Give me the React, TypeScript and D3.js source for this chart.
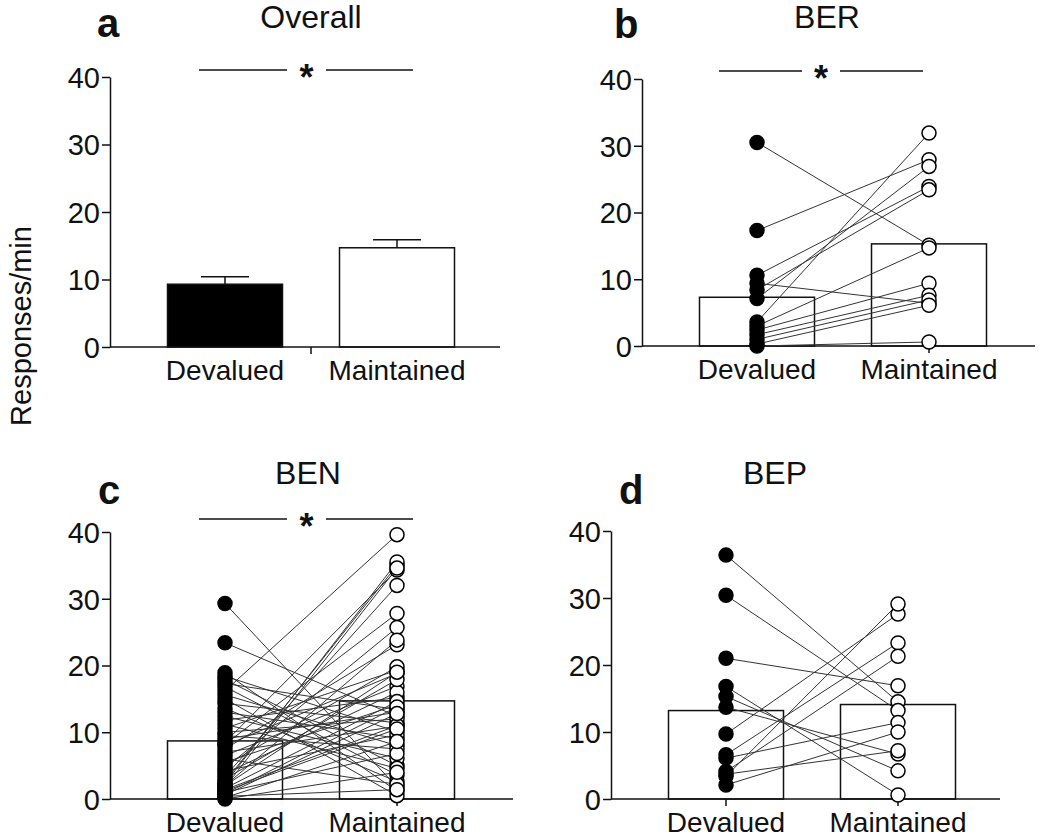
import React, { useEffect, useRef } from 'react';
import * as d3 from 'd3';

const categories = ['Devalued', 'Maintained'];
const yTicks = [0, 10, 20, 30, 40];

// a - Overall (mean + SEM)
const overallMeans = [9.3, 14.7];
const overallSem = [1.1, 1.2];

// b - BER, paired subjects
const berDevalued = [30.5, 17.3, 10.6, 9.4, 8.4, 7.1, 3.6, 3.0, 2.4, 1.7, 1.0, 0.3, 0.0];
const berMaintained = [15.1, 27.9, 23.9, 6.4, 23.4, 26.9, 31.9, 14.7, 9.4, 7.6, 6.9, 6.1, 0.6];
const berMeans = [7.3, 15.3];

// c - BEN, paired subjects
const benDevalued = [
  29.3, 23.4, 18.9, 18.4, 17.9, 17.3, 16.8, 16.2, 15.6, 15.0, 14.3, 13.6, 13.0, 12.4, 11.8, 11.2,
  10.6, 10.0, 9.5, 9.0, 8.5, 8.2, 8.0, 7.5, 7.0, 6.5, 6.0, 5.5, 5.0, 4.6, 4.2, 3.8,
  3.4, 3.0, 2.6, 2.3, 2.0, 2.0, 1.8, 1.6, 1.4, 1.2, 1.0, 0.8, 0.6, 0.4, 0.2, 0.0,
];
const benMaintained = [
  1.8, 12.4, 1.2, 10.1, 5.0, 13.4, 3.6, 39.6, 8.0, 0.5, 11.4, 2.6, 9.1, 6.1, 15.2, 4.6,
  19.3, 12.0, 7.5, 13.0, 34.3, 27.8, 18.8, 23.1, 10.9, 16.9, 2.2, 14.1, 19.8, 25.7, 9.6, 16.0,
  32.0, 17.9, 35.0, 35.5, 23.8, 19.0, 34.6, 14.6, 11.0, 10.5, 6.8, 13.8, 12.8, 1.4, 8.6, 4.0,
];
const benMeans = [8.7, 14.7];

// d - BEP, paired subjects
const bepDevalued = [36.4, 30.4, 21.0, 16.8, 15.3, 13.7, 9.7, 6.6, 6.1, 4.1, 3.7, 3.4, 2.1];
const bepMaintained = [14.5, 13.2, 16.9, 0.6, 4.2, 6.7, 27.6, 23.3, 11.4, 21.3, 7.2, 29.1, 10.0];
const bepMeans = [13.2, 14.1];

const panels = [
  {
    letter: 'a', title: 'Overall', axisX: 110, axisRight: 500, y0: 347, y40: 77,
    titleX: 311, titleY: 28, letterX: 97, letterY: 37,
    sig: { x1: 199, x2: 413, g1: 287, g2: 326, y: 70 },
    means: overallMeans, sem: overallSem, dev: null, mai: null, centerTick: true,
  },
  {
    letter: 'b', title: 'BER', axisX: 642, axisRight: 1035, y0: 346, y40: 79,
    titleX: 827, titleY: 28, letterX: 614, letterY: 38,
    sig: { x1: 719, x2: 923, g1: 802, g2: 840, y: 71 },
    means: berMeans, sem: null, dev: berDevalued, mai: berMaintained, centerTick: false,
  },
  {
    letter: 'c', title: 'BEN', axisX: 110, axisRight: 513, y0: 799, y40: 532,
    titleX: 308, titleY: 484, letterX: 98, letterY: 504,
    sig: { x1: 199, x2: 413, g1: 287, g2: 326, y: 519 },
    means: benMeans, sem: null, dev: benDevalued, mai: benMaintained, centerTick: false,
  },
  {
    letter: 'd', title: 'BEP', axisX: 611, axisRight: 1000, y0: 799, y40: 531,
    titleX: 775, titleY: 484, letterX: 619, letterY: 504,
    sig: null,
    means: bepMeans, sem: null, dev: bepDevalued, mai: bepMaintained, centerTick: false,
  },
];

const FONT = 'Liberation Sans, Arial, Helvetica, sans-serif';

const App = () => {
  const ref = useRef<SVGSVGElement>(null);

  useEffect(() => {
    if (!ref.current) return;
    const svg = d3.select(ref.current);
    svg.selectAll('*').remove();

    svg.append('text')
      .attr('transform', 'translate(31,326) rotate(-90)')
      .attr('text-anchor', 'middle')
      .attr('font-family', FONT)
      .attr('font-size', 29)
      .attr('fill', '#111')
      .text('Responses/min');

    panels.forEach(p => {
      const g = svg.append('g');
      const y = d3.scaleLinear().domain([0, 40]).range([p.y0, p.y40]);
      const x = d3.scalePoint<string>().domain(categories).range([p.axisX + 115, p.axisX + 287]);
      const barW = 115;

      // bars
      g.selectAll('rect.bar')
        .data(p.means)
        .join('rect')
        .attr('x', (_, i) => (x(categories[i]) as number) - barW / 2)
        .attr('y', d => y(d))
        .attr('width', barW)
        .attr('height', d => p.y0 - y(d))
        .attr('fill', (_, i) => (p.letter === 'a' && i === 0 ? '#000' : '#fff'))
        .attr('stroke', '#111')
        .attr('stroke-width', 1.5);

      // error bars (upward only)
      if (p.sem) {
        p.means.forEach((m, i) => {
          const cx = x(categories[i]) as number;
          const top = y(m + p.sem[i]);
          g.append('line').attr('x1', cx).attr('x2', cx).attr('y1', y(m)).attr('y2', top)
            .attr('stroke', '#111').attr('stroke-width', 1.5);
          g.append('line').attr('x1', cx - 24).attr('x2', cx + 24).attr('y1', top).attr('y2', top)
            .attr('stroke', '#111').attr('stroke-width', 1.5);
        });
      }

      // y axis
      const yAxis = d3.axisLeft(y).tickValues(yTicks).tickSize(8).tickSizeOuter(0).tickPadding(2)
        .tickFormat(d3.format('d'));
      const ga = g.append('g').attr('transform', `translate(${p.axisX},0)`).call(yAxis);
      ga.select('.domain').attr('stroke', '#111').attr('stroke-width', 1.5);
      ga.selectAll('.tick line').attr('stroke', '#111').attr('stroke-width', 1.5);
      ga.selectAll('.tick text')
        .attr('font-family', FONT).attr('font-size', 29).attr('fill', '#111')
        .attr('dy', '0.36em');

      // x axis
      g.append('line')
        .attr('x1', p.axisX).attr('x2', p.axisRight)
        .attr('y1', p.y0).attr('y2', p.y0)
        .attr('stroke', '#111').attr('stroke-width', 1.5);
      const tickXs = p.centerTick
        ? [((x(categories[0]) as number) + (x(categories[1]) as number)) / 2]
        : categories.map(c => x(c) as number);
      tickXs.forEach(tx => {
        g.append('line').attr('x1', tx).attr('x2', tx).attr('y1', p.y0).attr('y2', p.y0 + 7)
          .attr('stroke', '#111').attr('stroke-width', 1.5);
      });
      g.selectAll('text.cat')
        .data(categories)
        .join('text')
        .attr('x', d => x(d) as number)
        .attr('y', p.y0 + 33)
        .attr('text-anchor', 'middle')
        .attr('font-family', FONT)
        .attr('font-size', 28)
        .attr('fill', '#111')
        .text(d => d);

      // paired lines and points
      if (p.dev && p.mai) {
        const pairs = p.dev.map((d, i) => [d, p.mai![i]]);
        const link = d3.line<[string, number]>()
          .x(d => x(d[0]) as number)
          .y(d => y(d[1]));
        g.selectAll('path.pair')
          .data(pairs)
          .join('path')
          .attr('d', d => link([[categories[0], d[0]], [categories[1], d[1]]]))
          .attr('fill', 'none')
          .attr('stroke', '#333')
          .attr('stroke-width', 1);
        g.selectAll('circle.dev')
          .data(p.dev)
          .join('circle')
          .attr('cx', x(categories[0]) as number)
          .attr('cy', d => y(d))
          .attr('r', 7)
          .attr('fill', '#000')
          .attr('stroke', '#000')
          .attr('stroke-width', 1.5);
        g.selectAll('circle.mai')
          .data(p.mai)
          .join('circle')
          .attr('cx', x(categories[1]) as number)
          .attr('cy', d => y(d))
          .attr('r', 7)
          .attr('fill', '#fff')
          .attr('stroke', '#000')
          .attr('stroke-width', 1.5);
      }

      // title and letter
      g.append('text')
        .attr('x', p.titleX).attr('y', p.titleY)
        .attr('text-anchor', 'middle')
        .attr('font-family', FONT).attr('font-size', 32).attr('fill', '#111')
        .text(p.title);
      g.append('text')
        .attr('x', p.letterX).attr('y', p.letterY)
        .attr('font-family', FONT).attr('font-size', 40).attr('font-weight', 'bold').attr('fill', '#111')
        .text(p.letter);

      // significance bar
      if (p.sig) {
        const s = p.sig;
        [[s.x1, s.g1], [s.g2, s.x2]].forEach(([a, b]) => {
          g.append('line').attr('x1', a).attr('x2', b).attr('y1', s.y).attr('y2', s.y)
            .attr('stroke', '#111').attr('stroke-width', 1.5);
        });
        g.append('text')
          .attr('x', (s.g1 + s.g2) / 2).attr('y', s.y + 20)
          .attr('text-anchor', 'middle')
          .attr('font-family', FONT).attr('font-size', 36).attr('font-weight', 'bold').attr('fill', '#111')
          .text('*');
      }
    });
  }, []);

  return (
    <svg
      ref={ref}
      width={1050}
      height={838}
      style={{ position: 'absolute', left: 0, top: 0, background: '#fff' }}
    />
  );
};

export default App;
